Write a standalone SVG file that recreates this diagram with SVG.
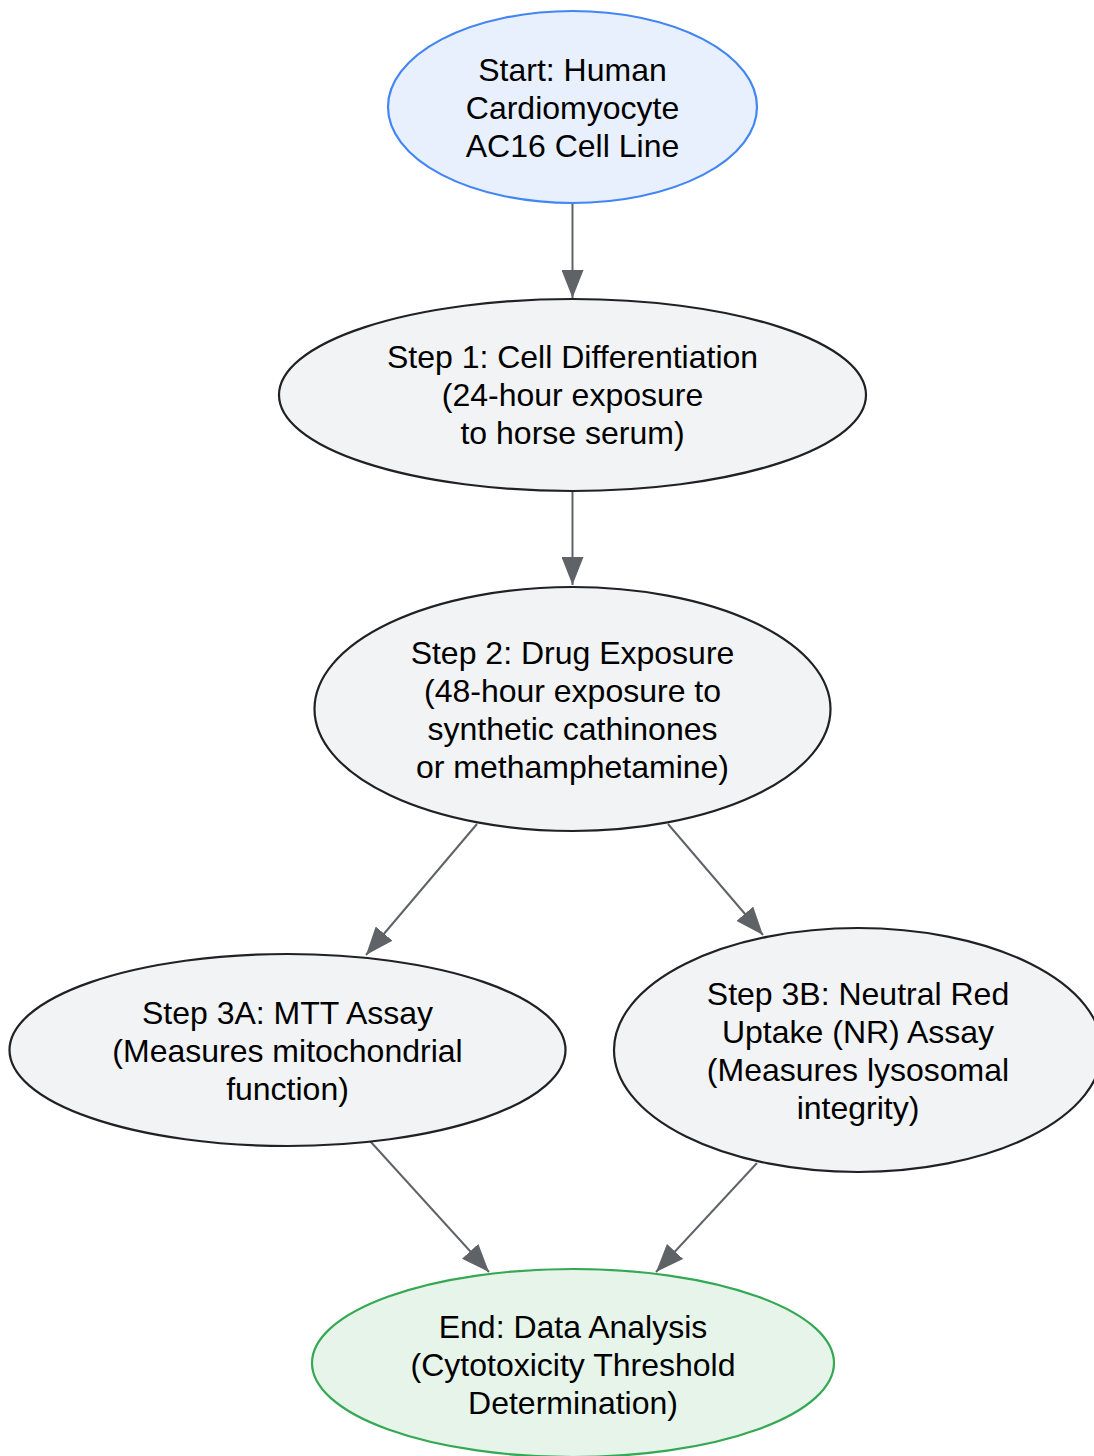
<svg xmlns="http://www.w3.org/2000/svg" width="1094" height="1456" viewBox="0 0 1094 1456">
<style>
.node{stroke-width:2.2}
.def{fill:#f1f3f4;stroke:#202124}
.start{fill:#e8f0fe;stroke:#4285f4}
.end{fill:#e6f4ea;stroke:#34a853}
text{font-family:"Liberation Sans",Arial,sans-serif;font-size:32px;fill:#000;text-anchor:middle}
.edge{stroke:#5f6368;stroke-width:2;fill:none;marker-end:url(#arr)}
</style>
<defs>
<marker id="arr" viewBox="0 0 28 22" refX="28" refY="11" markerWidth="28" markerHeight="22" markerUnits="userSpaceOnUse" orient="auto">
<path d="M0,0 L28,11 L0,22 z" fill="#5f6368"/>
</marker>
</defs>
<rect width="1094" height="1456" fill="#fff"/>
<g id="connectors">
<line class="edge" x1="572.5" y1="203" x2="572.5" y2="298"/>
<line class="edge" x1="572.5" y1="491" x2="572.5" y2="585"/>
<line class="edge" x1="477" y1="824" x2="366" y2="955"/>
<line class="edge" x1="668" y1="824" x2="763" y2="935"/>
<line class="edge" x1="370" y1="1141" x2="489" y2="1272"/>
<line class="edge" x1="757" y1="1163" x2="656" y2="1272"/>
</g>
<g id="start">
<ellipse class="node start" cx="572.5" cy="107" rx="184.5" ry="96"/>
<text x="572.5" y="81">Start: Human</text>
<text x="572.5" y="119">Cardiomyocyte</text>
<text x="572.5" y="157">AC16 Cell Line</text>
</g>
<g id="step1">
<ellipse class="node def" cx="572.5" cy="395" rx="293.5" ry="96"/>
<text x="572.5" y="368">Step 1: Cell Differentiation</text>
<text x="572.5" y="406">(24-hour exposure</text>
<text x="572.5" y="444">to horse serum)</text>
</g>
<g id="step2">
<ellipse class="node def" cx="572.5" cy="709" rx="258" ry="122"/>
<text x="572.5" y="664">Step 2: Drug Exposure</text>
<text x="572.5" y="702">(48-hour exposure to</text>
<text x="572.5" y="740">synthetic cathinones</text>
<text x="572.5" y="778">or methamphetamine)</text>
</g>
<g id="step3a">
<ellipse class="node def" cx="287.5" cy="1050" rx="278" ry="96"/>
<text x="287.5" y="1024">Step 3A: MTT Assay</text>
<text x="287.5" y="1062">(Measures mitochondrial</text>
<text x="287.5" y="1100">function)</text>
</g>
<g id="step3b">
<ellipse class="node def" cx="858" cy="1050" rx="244" ry="122"/>
<text x="858" y="1005">Step 3B: Neutral Red</text>
<text x="858" y="1043">Uptake (NR) Assay</text>
<text x="858" y="1081">(Measures lysosomal</text>
<text x="858" y="1119">integrity)</text>
</g>
<g id="end">
<ellipse class="node end" cx="573" cy="1363" rx="261" ry="94"/>
<text x="573" y="1338">End: Data Analysis</text>
<text x="573" y="1376">(Cytotoxicity Threshold</text>
<text x="573" y="1414">Determination)</text>
</g>
</svg>
